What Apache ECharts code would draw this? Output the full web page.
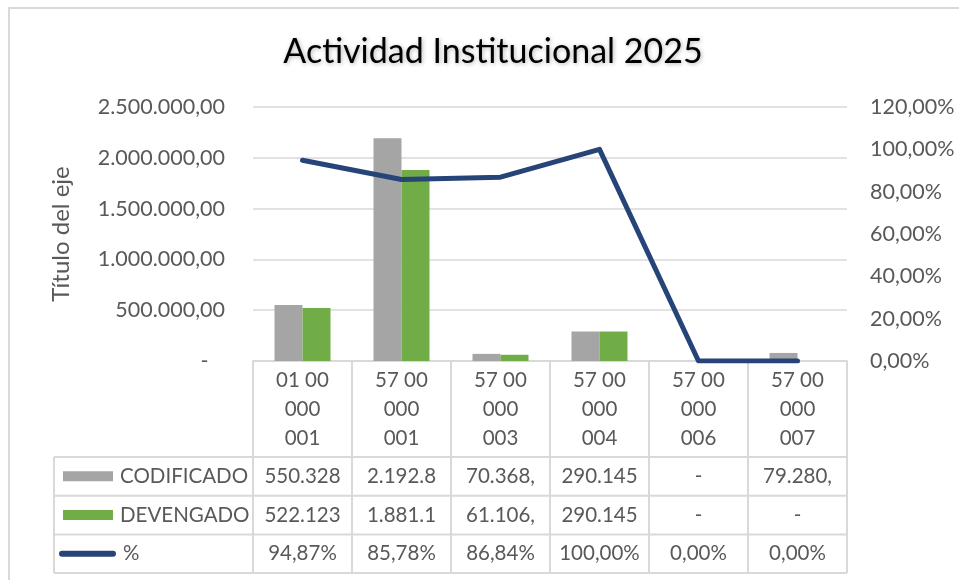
<!DOCTYPE html>
<html>
<head>
<meta charset="utf-8">
<script src="https://cdn.jsdelivr.net/npm/echarts@6/dist/echarts.min.js"></script>
<style>
html,body{margin:0;padding:0;background:#fff;}
#main{width:959px;height:580px;}
</style>
</head>
<body>
<div id="main"></div>
<script>
// ---- data ----
const categories = ['01 00 000 001','57 00 000 001','57 00 000 003','57 00 000 004','57 00 000 006','57 00 000 007'];
const codificado = [550328, 2192800, 70368, 290145, 0, 79280];
const devengado  = [522123, 1881100, 61106, 290145, 0, 0];
const porcentaje = [94.87, 85.78, 86.84, 100.00, 0.00, 0.00];
const seriesNames = ['CODIFICADO', 'DEVENGADO', '%'];
const titleText = 'Actividad Institucional 2025';
const yAxisTitle = 'Título del eje';

// ---- helpers ----
function fmtMoney(v) {
  if (v === 0) return '-';
  const parts = v.toFixed(2).split('.');
  const intPart = parts[0].replace(/\B(?=(\d{3})+(?!\d))/g, '.');
  return intPart + ',' + parts[1];
}
function fmtCell(v) { // cell text truncated like the Excel data table
  const s = fmtMoney(v);
  return s.slice(0, 7);
}
function fmtPct(v) { return v.toFixed(2).replace('.', ',') + '%'; }

// ---- layout ----
const W = 959, H = 580;
const G = {left: 253, right: 112, top: 107, bottom: 219};
const gridBottomY = H - G.bottom;          // 361
const gridRightX = W - G.right;            // 847
const tableLeftX = 54;
const headerBottom = gridBottomY + 96;     // 457
const rowH = 38.7;
const rowLines = [headerBottom, headerBottom + rowH, headerBottom + 2*rowH, headerBottom + 3*rowH];
const tableColor = '#D9D9D9';
const textColor = '#595959';
const FONT = 'Lato';
const TABLE_FS = 20.5;
const AXIS_FS = 21.5;

const rows = [
  codificado.map(fmtCell),
  devengado.map(fmtCell),
  porcentaje.map(fmtPct)
];

function rowAxis(rowIndex) {
  const centerY = (rowLines[rowIndex] + rowLines[rowIndex + 1]) / 2;
  return {
    type: 'category', gridIndex: 0, position: 'bottom',
    offset: centerY - gridBottomY - 10,
    data: categories,
    axisLine: {show: false}, axisTick: {show: false}, splitLine: {show: false},
    axisLabel: {
      interval: 0, margin: 0, lineHeight: 20, fontSize: TABLE_FS, color: textColor, fontFamily: FONT,
      formatter: (v, i) => rows[rowIndex][i]
    }
  };
}

function legendAt(rowIndex, name, extra) {
  const centerY = (rowLines[rowIndex] + rowLines[rowIndex + 1]) / 2;
  return Object.assign({
    data: [{name: name}],
    top: centerY - 11,
    padding: 0,
    selectedMode: false,
    itemWidth: 50, itemHeight: 10,
    textStyle: {color: textColor, fontSize: TABLE_FS, fontFamily: FONT, lineHeight: 22, padding: [0,0,0,2]}
  }, extra);
}

const chart = echarts.init(document.getElementById('main'), null, {renderer: 'canvas'});

const hLines = rowLines.map(y => ({
  type: 'line', silent: true,
  shape: {x1: tableLeftX, y1: y, x2: gridRightX, y2: y},
  style: {stroke: tableColor, lineWidth: 2}
}));

chart.setOption({
  backgroundColor: '#fff',
  animation: false,
  title: {
    text: titleText, left: 488, top: 30, textAlign: 'center',
    textStyle: {fontFamily: FONT, fontSize: 34, fontWeight: 'normal', color: '#000',
      textShadowColor: 'rgba(0,0,0,0.3)', textShadowBlur: 4, textShadowOffsetX: 1, textShadowOffsetY: 1}
  },
  grid: {left: G.left, right: G.right, top: G.top, bottom: G.bottom, containLabel: false},
  legend: [
    legendAt(0, seriesNames[0], {left: 63, icon: 'rect'}),
    legendAt(1, seriesNames[1], {left: 63, icon: 'rect'}),
    legendAt(2, seriesNames[2], {left: 59, itemWidth: 57, itemHeight: 6,
      icon: 'path://M3,0 L54,0 A3,3 0 0 1 54,6 L3,6 A3,3 0 0 1 3,0 Z'})
  ],
  xAxis: [
    {
      type: 'category', gridIndex: 0, position: 'bottom', data: categories,
      axisLine: {show: true, lineStyle: {color: tableColor, width: 2}},
      axisTick: {show: true, interval: 0, length: rowLines[3] - gridBottomY, lineStyle: {color: tableColor, width: 2}},
      axisLabel: {
        interval: 0, margin: 5, lineHeight: 29, fontSize: TABLE_FS, color: textColor, fontFamily: FONT,
        formatter: v => { const p = v.split(' '); return p[0] + ' ' + p[1] + '\n' + p[2] + '\n' + p[3]; }
      }
    },
    rowAxis(0), rowAxis(1), rowAxis(2)
  ],
  yAxis: [
    {
      type: 'value', min: 0, max: 2500000, interval: 500000, position: 'left',
      name: yAxisTitle, nameLocation: 'middle', nameGap: 180, nameRotate: 90,
      nameTextStyle: {fontFamily: FONT, fontSize: 24, color: textColor},
      axisLine: {show: false}, axisTick: {show: false},
      splitLine: {show: true, lineStyle: {color: tableColor, width: 1.5}},
      axisLabel: {margin: 28, fontSize: AXIS_FS, color: textColor, fontFamily: FONT,
        formatter: v => v === 0 ? '-   ' : fmtMoney(v)}
    },
    {
      type: 'value', min: 0, max: 120, interval: 20, position: 'right',
      axisLine: {show: false}, axisTick: {show: false}, splitLine: {show: false},
      axisLabel: {margin: 23, fontSize: AXIS_FS, color: textColor, fontFamily: FONT,
        formatter: v => fmtPct(v)}
    }
  ],
  series: [
    {name: seriesNames[0], type: 'bar', xAxisIndex: 0, yAxisIndex: 0, data: codificado,
      barWidth: 28, barGap: '0%', itemStyle: {color: '#A5A5A5'}},
    {name: seriesNames[1], type: 'bar', xAxisIndex: 0, yAxisIndex: 0, data: devengado,
      barWidth: 28, barGap: '0%', itemStyle: {color: '#70AD47'}},
    {name: seriesNames[2], type: 'line', xAxisIndex: 0, yAxisIndex: 1, data: porcentaje,
      symbol: 'none', z: 5,
      lineStyle: {color: '#264478', width: 5, cap: 'round', join: 'round'},
      itemStyle: {color: '#264478'}}
  ],
  graphic: [
    {type: 'rect', silent: true, shape: {x: 9, y: 8, width: 1000, height: 1000},
      style: {fill: 'none', stroke: tableColor, lineWidth: 2}},
    {type: 'line', silent: true,
      shape: {x1: tableLeftX, y1: rowLines[0], x2: tableLeftX, y2: rowLines[3]},
      style: {stroke: tableColor, lineWidth: 2}}
  ].concat(hLines)
});
</script>
</body>
</html>
